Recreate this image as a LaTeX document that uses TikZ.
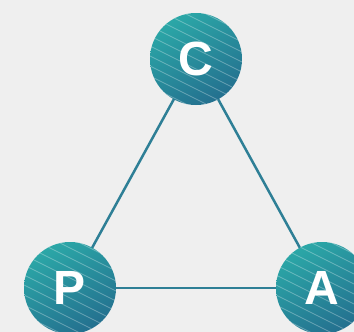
\documentclass[tikz,border=0pt]{standalone}
\usepackage{fontspec}
\setmainfont{Liberation Sans}
\usetikzlibrary{calc}
\pgfdeclarelayer{back}
\pgfdeclarelayer{edges}
\pgfsetlayers{back,edges,main}
\begin{document}
\begin{tikzpicture}[x=1pt,y=-1pt,
  edge/.style={draw=linec,line width=2.5pt},
  disc/.style={circle,minimum size=92pt,inner sep=0pt,text=white,
    font=\fontsize{48}{48}\selectfont\bfseries,
    path picture={
      \shade[top color=tl,bottom color=br,shading angle=30]
        (path picture bounding box.south west) rectangle (path picture bounding box.north east);
      \foreach \k in {-70,-60,...,40}{
        \draw[white,opacity=0.3,line width=0.8pt]
          ($(path picture bounding box.center)+(-60,\k-10)$) -- ($(path picture bounding box.center)+(60,\k+50)$);
      }
    }}]
\definecolor{bg}{HTML}{EFEFEF}
\definecolor{linec}{HTML}{2E7F96}
\definecolor{tl}{HTML}{2BA7A7}
\definecolor{br}{HTML}{24708F}
\begin{pgfonlayer}{back}
\fill[bg] (0,0) rectangle (354,332);
\end{pgfonlayer}
\useasboundingbox (0,0) rectangle (354,332);
\node[disc] (c) at (196,59) {C};
\node[disc] (p) at (70,288) {P};
\node[disc] (a) at (322,288) {A};
\begin{pgfonlayer}{edges}
\draw[edge] (c.center) -- (p.center);
\draw[edge] (c.center) -- (a.center);
\draw[edge] (p.center) -- (a.center);
\end{pgfonlayer}
\end{tikzpicture}
\end{document}
